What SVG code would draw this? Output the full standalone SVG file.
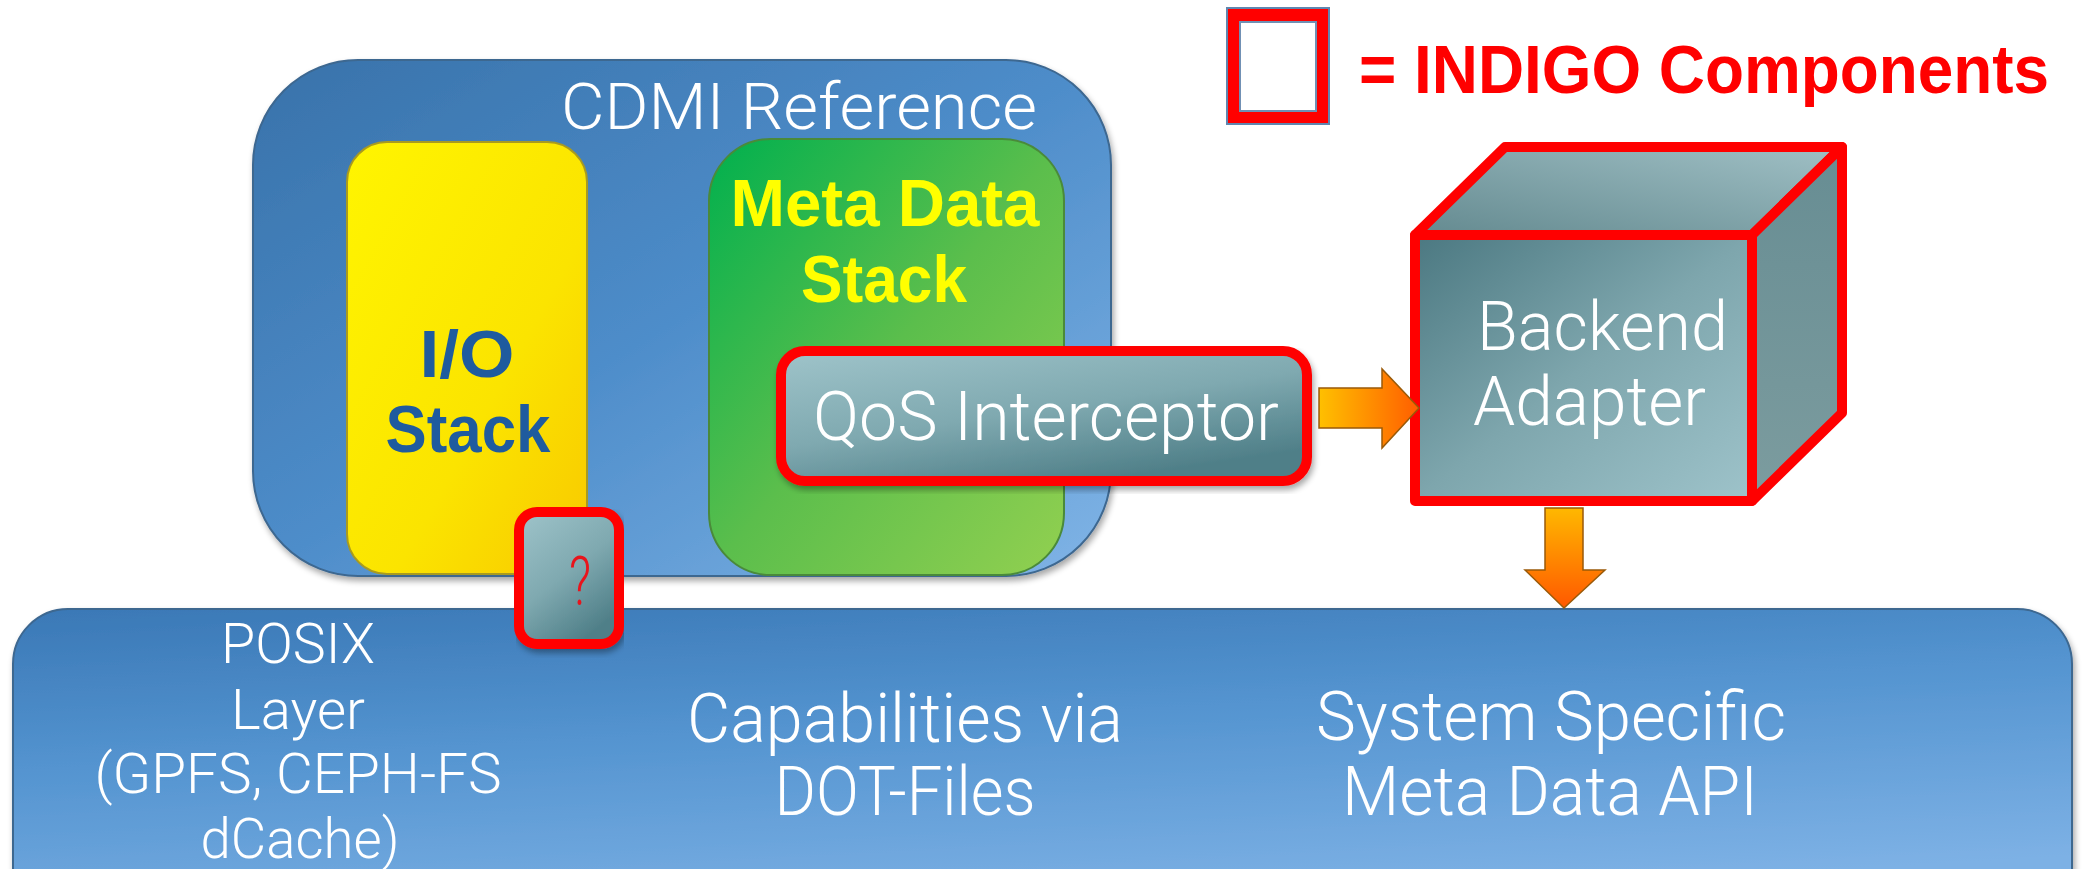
<svg xmlns="http://www.w3.org/2000/svg" width="2089" height="869" viewBox="0 0 2089 869">
<defs>
<linearGradient id="gBlue" x1="0" y1="0" x2="1" y2="1"><stop offset="0" stop-color="#3872AA"/><stop offset="0.5" stop-color="#4E8DCA"/><stop offset="1" stop-color="#80B4E6"/></linearGradient>
<linearGradient id="gBlueBottom" x1="0" y1="0" x2="0.35" y2="1"><stop offset="0" stop-color="#3A78B6"/><stop offset="0.45" stop-color="#5494D0"/><stop offset="1" stop-color="#7DB1E5"/></linearGradient>
<linearGradient id="gYellow" x1="0" y1="0" x2="1" y2="1"><stop offset="0" stop-color="#FFF500"/><stop offset="0.6" stop-color="#FBE400"/><stop offset="1" stop-color="#F8C800"/></linearGradient>
<linearGradient id="gGreen" x1="0" y1="0" x2="1" y2="1"><stop offset="0" stop-color="#00B04E"/><stop offset="0.5" stop-color="#5BBE4C"/><stop offset="1" stop-color="#92D050"/></linearGradient>
<linearGradient id="gTeal" x1="0" y1="0" x2="0.6" y2="1"><stop offset="0" stop-color="#9FC4CA"/><stop offset="0.55" stop-color="#7FA9B0"/><stop offset="1" stop-color="#4F7F88"/></linearGradient>
<linearGradient id="gFront" x1="0" y1="0" x2="1" y2="1"><stop offset="0" stop-color="#4B7881"/><stop offset="0.5" stop-color="#7EA6AD"/><stop offset="1" stop-color="#9EC3CA"/></linearGradient>
<linearGradient id="gTop" x1="0" y1="1" x2="1" y2="0"><stop offset="0" stop-color="#648A90"/><stop offset="1" stop-color="#A0C0C5"/></linearGradient>
<linearGradient id="gSide" x1="0" y1="0" x2="0" y2="1"><stop offset="0" stop-color="#678D93"/><stop offset="1" stop-color="#7C9C9F"/></linearGradient>
<linearGradient id="gArrowR" x1="0" y1="0" x2="1" y2="0"><stop offset="0" stop-color="#FFC000"/><stop offset="1" stop-color="#FF5E00"/></linearGradient>
<linearGradient id="gArrowD" x1="0" y1="0" x2="0" y2="1"><stop offset="0" stop-color="#FFB800"/><stop offset="1" stop-color="#FF5800"/></linearGradient>
<filter id="sh" x="-5%" y="-5%" width="110%" height="115%"><feGaussianBlur in="SourceAlpha" stdDeviation="3"/><feOffset dx="2" dy="4"/><feComponentTransfer><feFuncA type="linear" slope="0.35"/></feComponentTransfer><feMerge><feMergeNode/><feMergeNode in="SourceGraphic"/></feMerge></filter>
</defs>
<style>
.t{font-family:Roboto,"Liberation Sans",Arial,sans-serif;font-weight:300;fill:#FFFFFF;}
.b{font-family:"Liberation Sans Narrow","Liberation Sans",Arial,sans-serif;font-weight:bold;}
.ind{fill:url(#gTeal);stroke:#FF0000;stroke-width:10;}
.arrow{stroke:#9A5A08;stroke-width:1.5;stroke-linejoin:miter;}
</style>
<rect width="2089" height="869" fill="#FFFFFF"/>

<g id="posix-layer">
<rect x="13" y="609" width="2059" height="320" rx="55" fill="url(#gBlueBottom)" stroke="#3D6790" stroke-width="2" filter="url(#sh)"/>
<text class="t" font-size="56" text-anchor="middle" x="298" y="663" textLength="154" lengthAdjust="spacingAndGlyphs">POSIX</text>
<text class="t" font-size="56" text-anchor="middle" x="298" y="729" textLength="134" lengthAdjust="spacingAndGlyphs">Layer</text>
<text class="t" font-size="56" text-anchor="middle" x="298" y="793" textLength="407" lengthAdjust="spacingAndGlyphs">(GPFS, CEPH-FS</text>
<text class="t" font-size="56" text-anchor="middle" x="300" y="858" textLength="199" lengthAdjust="spacingAndGlyphs">dCache)</text>
<text class="t" font-size="68" text-anchor="middle" x="905" y="742" textLength="436" lengthAdjust="spacingAndGlyphs">Capabilities via</text>
<text class="t" font-size="68" text-anchor="middle" x="905" y="815" textLength="261" lengthAdjust="spacingAndGlyphs">DOT-Files</text>
<text class="t" font-size="68" text-anchor="middle" x="1551" y="740" textLength="470" lengthAdjust="spacingAndGlyphs">System Specific</text>
<text class="t" font-size="68" text-anchor="middle" x="1550" y="815" textLength="416" lengthAdjust="spacingAndGlyphs">Meta Data API</text>
</g>

<g id="cdmi-reference">
<rect x="253" y="60" width="858" height="516" rx="105" fill="url(#gBlue)" stroke="#3D6790" stroke-width="2" filter="url(#sh)"/>
<text class="t" font-size="65" x="561" y="129" textLength="476" lengthAdjust="spacingAndGlyphs">CDMI Reference</text>
</g>

<g id="io-stack">
<rect x="347" y="142" width="240" height="432" rx="40" fill="url(#gYellow)" stroke="#A89A20" stroke-width="2"/>
<text class="b" font-size="66" fill="#1F5B9E" text-anchor="middle" x="467" y="377" textLength="95" lengthAdjust="spacingAndGlyphs">I/O</text>
<text class="b" font-size="66" fill="#1F5B9E" text-anchor="middle" x="468" y="452" textLength="165" lengthAdjust="spacingAndGlyphs">Stack</text>
</g>

<g id="meta-data-stack">
<rect x="709" y="139" width="355" height="436" rx="62" fill="url(#gGreen)" stroke="#4A8A3A" stroke-width="2"/>
<text class="b" font-size="66" fill="#FFFF00" text-anchor="middle" x="885" y="226" textLength="309" lengthAdjust="spacingAndGlyphs">Meta Data</text>
<text class="b" font-size="66" fill="#FFFF00" text-anchor="middle" x="884" y="302" textLength="166" lengthAdjust="spacingAndGlyphs">Stack</text>
</g>

<g id="qos-interceptor">
<rect x="781" y="351" width="526" height="130" rx="24" class="ind" filter="url(#sh)"/>
<text class="t" font-size="68" x="813" y="440" textLength="466" lengthAdjust="spacingAndGlyphs">QoS Interceptor</text>
</g>

<g id="posix-interceptor">
<rect x="519" y="512" width="100" height="132" rx="18" class="ind" filter="url(#sh)"/>
<text font-family="Roboto,Liberation Sans,sans-serif" font-weight="300" font-size="68" fill="#E8141C" text-anchor="middle" x="580" y="605" textLength="22" lengthAdjust="spacingAndGlyphs">?</text>
</g>

<g id="backend-adapter" stroke="#FF0000" stroke-width="10" stroke-linejoin="round">
<polygon points="1415,235 1505,147 1842,147 1752,235" fill="url(#gTop)"/>
<polygon points="1752,235 1842,147 1842,413 1752,501" fill="url(#gSide)"/>
<rect x="1415" y="235" width="337" height="266" fill="url(#gFront)"/>
<text class="t" stroke="none" font-size="68" x="1477" y="350" textLength="251" lengthAdjust="spacingAndGlyphs">Backend</text>
<text class="t" stroke="none" font-size="68" x="1473" y="425" textLength="233" lengthAdjust="spacingAndGlyphs">Adapter</text>
</g>

<g id="legend">
<rect x="1227" y="8" width="102" height="116" fill="#FF0000" stroke="#5F86B0" stroke-width="2"/>
<rect x="1240" y="22" width="76" height="89" fill="#FFFFFF" stroke="#7090B4" stroke-width="2"/>
<text class="b" font-size="68" fill="#FF0000" x="1359" y="93" textLength="690" lengthAdjust="spacingAndGlyphs">= INDIGO Components</text>
</g>

<g id="connectors">
<polygon class="arrow" points="1319,388 1382,388 1382,369 1419,408 1382,448 1382,428 1319,428" fill="url(#gArrowR)"/>
<polygon class="arrow" points="1545,508 1583,508 1583,570 1605,570 1564,608 1525,570 1545,570" fill="url(#gArrowD)"/>
</g>
</svg>
